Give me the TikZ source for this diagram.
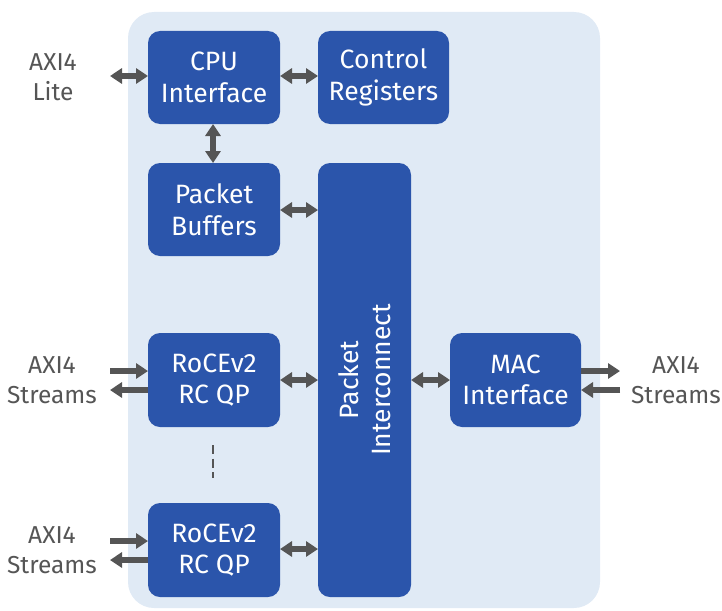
\documentclass[tikz,border=0pt]{standalone}
\usepackage{fontspec}
\setmainfont{Fira Sans}
\usetikzlibrary{arrows.meta}
\definecolor{boxblue}{HTML}{2B55AB}
\definecolor{bgblue}{HTML}{E0EAF5}
\definecolor{arrgray}{HTML}{555555}
\begin{document}
\begin{tikzpicture}[x=1pt,y=-1pt,
  blk/.style={fill=boxblue,rounded corners=12pt,draw=none},
  lbl/.style={text=white,font=\fontsize{26.5}{31.5}\selectfont,align=center},
  ext/.style={text=arrgray,font=\fontsize{24.5}{30}\selectfont,align=center},
  dbl/.style={draw=arrgray,line width=5.5pt,{Triangle[width=15pt,length=12pt]}-{Triangle[width=15pt,length=12pt]}},
  sgl/.style={draw=arrgray,line width=5.5pt,-{Triangle[width=15pt,length=12pt]}},
  ]
\useasboundingbox (0,0) rectangle (722,610);
\fill[bgblue,rounded corners=26pt] (128,12) rectangle (600,608);
% blocks
\path[blk] (148,31) rectangle (280,124);
\node[lbl] (cpu) at (214,77.5) {CPU\\Interface};
\coordinate (cpuw) at (148,76);
\coordinate (cpue) at (280,76);
\coordinate (cpus) at (213,124);
\path[blk] (318,31) rectangle (449,124);
\node[lbl] (ctrl) at (383.5,77.5) {Control\\Registers};
\coordinate (ctrlw) at (318,76);
\path[blk] (148,163) rectangle (280,256);
\node[lbl] (buf) at (214,209.5) {Packet\\Buffers};
\coordinate (bufn) at (213,163);
\coordinate (bufe) at (280,210);
\path[blk] (318,163) rectangle (411,597);
\node[lbl,rotate=90] (ic) at (364.5,380) {Packet\\Interconnect};
\coordinate (icw1) at (318,210);
\coordinate (icw2) at (318,380);
\coordinate (icw3) at (318,549);
\coordinate (ice) at (411,380);
\path[blk] (148,333) rectangle (280,427);
\node[lbl] (qp1) at (214,380) {RoCEv2\\RC QP};
\coordinate (qp1e) at (280,380);
\coordinate (qp1a) at (148,371);
\coordinate (qp1b) at (148,390);
\path[blk] (148,503) rectangle (280,597);
\node[lbl] (qp2) at (214,550) {RoCEv2\\RC QP};
\coordinate (qp2e) at (280,549);
\coordinate (qp2a) at (148,541);
\coordinate (qp2b) at (148,560);
\path[blk] (450,333) rectangle (581,427);
\node[lbl] (mac) at (515.5,380) {MAC\\Interface};
\coordinate (macw) at (450,380);
\coordinate (maca) at (581,371);
\coordinate (macb) at (581,390);
% external labels
\node[ext] (lite) at (53,77) {AXI4\\Lite};
\node[ext] (s1) at (52,380) {AXI4\\Streams};
\node[ext] (s2) at (52,550) {AXI4\\Streams};
\node[ext] (s3) at (676,380) {AXI4\\Streams};
\coordinate (litee) at (110,76);
\coordinate (s1a) at (110,371);
\coordinate (s1b) at (110,390);
\coordinate (s2a) at (110,541);
\coordinate (s2b) at (110,560);
\coordinate (s3a) at (620,371);
\coordinate (s3b) at (620,390);
% arrows
\draw[dbl] (litee) -- (cpuw);
\draw[dbl] (cpue) -- (ctrlw);
\draw[dbl] (cpus) -- (bufn);
\draw[dbl] (bufe) -- (icw1);
\draw[dbl] (qp1e) -- (icw2);
\draw[dbl] (qp2e) -- (icw3);
\draw[dbl] (ice) -- (macw);
\draw[sgl] (s1a) -- (qp1a);
\draw[sgl] (qp1b) -- (s1b);
\draw[sgl] (s2a) -- (qp2a);
\draw[sgl] (qp2b) -- (s2b);
\draw[sgl] (maca) -- (s3a);
\draw[sgl] (s3b) -- (macb);
% dashes
\coordinate (d1) at (213,445);
\coordinate (d2) at (213,478);
\draw[arrgray,line width=2pt,dash pattern=on 9pt off 4.5pt] (d1) -- (d2);
\end{tikzpicture}
\end{document}
